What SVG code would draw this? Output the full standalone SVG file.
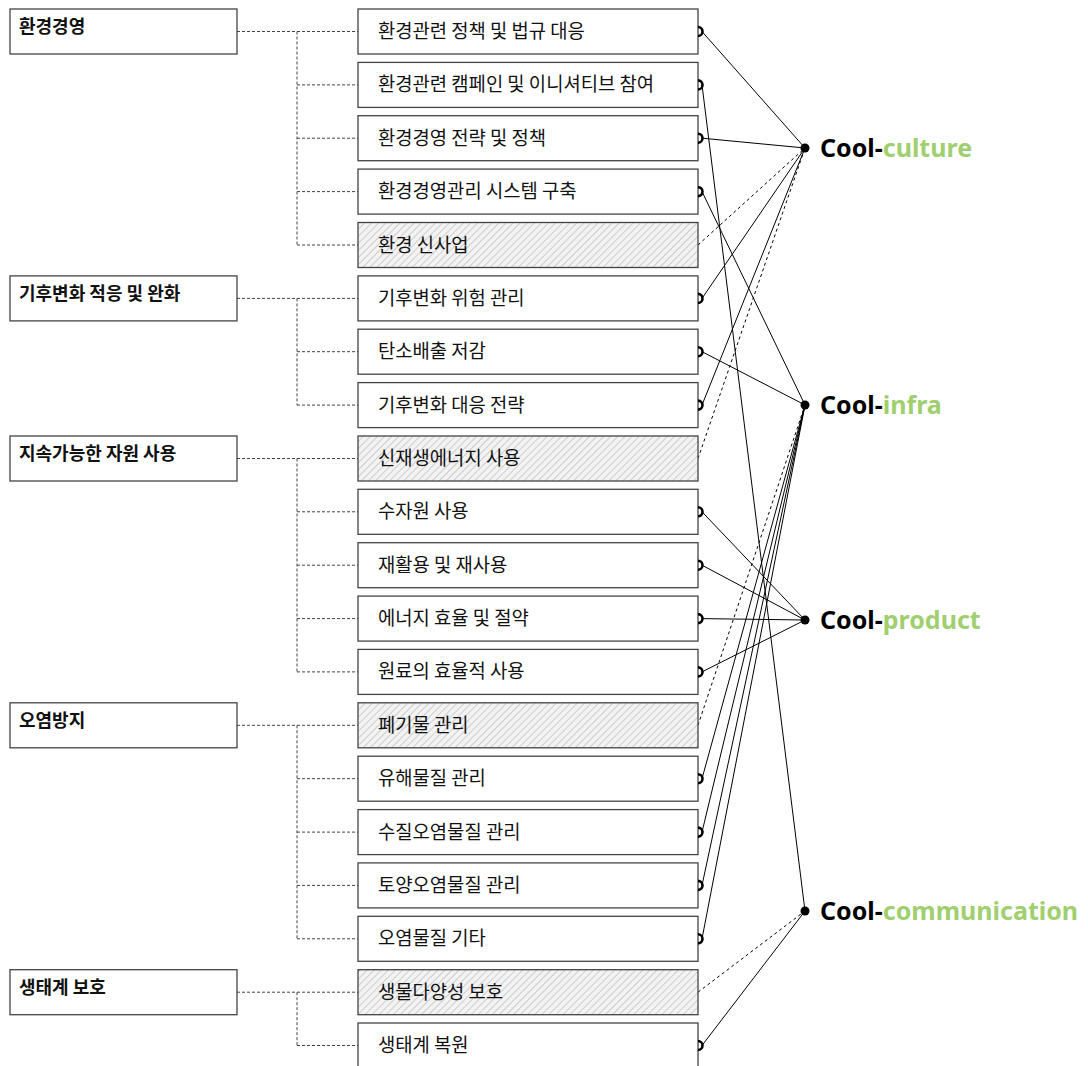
<svg xmlns="http://www.w3.org/2000/svg" width="1088" height="1066" viewBox="0 0 1088 1066">
<defs>
<pattern id="hatch" patternUnits="userSpaceOnUse" width="5" height="5" patternTransform="rotate(45)">
<rect width="5" height="5" fill="#f3f3f3"/>
<line x1="0" y1="0" x2="0" y2="5" stroke="#c4c4c4" stroke-width="1.6"/>
</pattern>
<style>
.box{fill:#fff;stroke:#444;stroke-width:1.3}
.hbox{fill:url(#hatch);stroke:#444;stroke-width:1.3}
.lt{font-family:"Noto Sans CJK KR",sans-serif;font-size:18px;font-weight:bold;fill:#111}
.rt{font-family:"Noto Sans CJK KR",sans-serif;font-size:18.8px;fill:#111}
.tree{fill:none;stroke:#444;stroke-width:1;stroke-dasharray:3 2}
.s{stroke:#000;stroke-width:1;fill:none}
.d{stroke:#000;stroke-width:1;fill:none;stroke-dasharray:3 3}
.mk{stroke:#000;stroke-width:2.6;fill:none}
.hub{font-family:"Noto Sans",sans-serif;font-size:25px;font-weight:bold;fill:#000}
.g{fill:#9fcf6f}
</style>
</defs>

<g id="connectors">
<path class="tree" d="M237,31.5H358 M297,31.5V245 M297,84.9H358 M297,138.2H358 M297,191.6H358 M297,245H358"/>
<path class="tree" d="M237,298.4H358 M297,298.4V405.1 M297,351.7H358 M297,405.1H358"/>
<path class="tree" d="M237,458.5H358 M297,458.5V671.9 M297,511.8H358 M297,565.2H358 M297,618.6H358 M297,671.9H358"/>
<path class="tree" d="M237,725.3H358 M297,725.3V938.8 M297,778.7H358 M297,832.1H358 M297,885.4H358 M297,938.8H358"/>
<path class="tree" d="M237,992.2H358 M297,992.2V1045.5 M297,1045.5H358"/>
<line class="s" x1="702" y1="31.5" x2="805" y2="148"/>
<line class="s" x1="702" y1="138.2" x2="805" y2="148"/>
<line class="d" x1="698" y1="245" x2="805" y2="148"/>
<line class="s" x1="702" y1="298.4" x2="805" y2="148"/>
<line class="s" x1="702" y1="405.1" x2="805" y2="148"/>
<line class="d" x1="698" y1="458.5" x2="805" y2="148"/>
<line class="s" x1="702" y1="191.6" x2="805" y2="405"/>
<line class="s" x1="702" y1="351.7" x2="805" y2="405"/>
<line class="d" x1="698" y1="725.3" x2="805" y2="405"/>
<line class="s" x1="702" y1="778.7" x2="805" y2="405"/>
<line class="s" x1="702" y1="832.1" x2="805" y2="405"/>
<line class="s" x1="702" y1="885.4" x2="805" y2="405"/>
<line class="s" x1="702" y1="938.8" x2="805" y2="405"/>
<line class="s" x1="702" y1="511.8" x2="805" y2="620"/>
<line class="s" x1="702" y1="565.2" x2="805" y2="620"/>
<line class="s" x1="702" y1="618.6" x2="805" y2="620"/>
<line class="s" x1="702" y1="671.9" x2="805" y2="620"/>
<line class="s" x1="702" y1="84.9" x2="805" y2="911"/>
<line class="d" x1="698" y1="992.2" x2="805" y2="911"/>
<line class="s" x1="702" y1="1045.5" x2="805" y2="911"/>
</g>

<g id="left-nodes">
<g id="n-env-mgmt"><rect class="box" x="10" y="9" width="227" height="45"/><text class="lt" x="19" y="33">환경경영</text></g>
<g id="n-climate"><rect class="box" x="10" y="275.9" width="227" height="45"/><text class="lt" x="19" y="299.9">기후변화 적응 및 완화</text></g>
<g id="n-resource"><rect class="box" x="10" y="436" width="227" height="45"/><text class="lt" x="19" y="460">지속가능한 자원 사용</text></g>
<g id="n-pollution"><rect class="box" x="10" y="702.8" width="227" height="45"/><text class="lt" x="19" y="726.8">오염방지</text></g>
<g id="n-eco"><rect class="box" x="10" y="969.7" width="227" height="45"/><text class="lt" x="19" y="993.7">생태계 보호</text></g>
</g>

<g id="right-nodes">
<g id="r0"><rect class="box" x="358" y="9" width="340" height="45"/><text class="rt" x="378" y="38">환경관련 정책 및 법규 대응</text><path class="mk" d="M698,27 A4.5,4.5 0 0 1 698,36"/></g>
<g id="r1"><rect class="box" x="358" y="62.4" width="340" height="45"/><text class="rt" x="378" y="91.4">환경관련 캠페인 및 이니셔티브 참여</text><path class="mk" d="M698,80.4 A4.5,4.5 0 0 1 698,89.4"/></g>
<g id="r2"><rect class="box" x="358" y="115.7" width="340" height="45"/><text class="rt" x="378" y="144.7">환경경영 전략 및 정책</text><path class="mk" d="M698,133.7 A4.5,4.5 0 0 1 698,142.7"/></g>
<g id="r3"><rect class="box" x="358" y="169.1" width="340" height="45"/><text class="rt" x="378" y="198.1">환경경영관리 시스템 구축</text><path class="mk" d="M698,187.1 A4.5,4.5 0 0 1 698,196.1"/></g>
<g id="r4"><rect class="hbox" x="358" y="222.5" width="340" height="45"/><text class="rt" x="378" y="251.5">환경 신사업</text></g>
<g id="r5"><rect class="box" x="358" y="275.9" width="340" height="45"/><text class="rt" x="378" y="304.9">기후변화 위험 관리</text><path class="mk" d="M698,293.9 A4.5,4.5 0 0 1 698,302.9"/></g>
<g id="r6"><rect class="box" x="358" y="329.2" width="340" height="45"/><text class="rt" x="378" y="358.2">탄소배출 저감</text><path class="mk" d="M698,347.2 A4.5,4.5 0 0 1 698,356.2"/></g>
<g id="r7"><rect class="box" x="358" y="382.6" width="340" height="45"/><text class="rt" x="378" y="411.6">기후변화 대응 전략</text><path class="mk" d="M698,400.6 A4.5,4.5 0 0 1 698,409.6"/></g>
<g id="r8"><rect class="hbox" x="358" y="436" width="340" height="45"/><text class="rt" x="378" y="465">신재생에너지 사용</text></g>
<g id="r9"><rect class="box" x="358" y="489.3" width="340" height="45"/><text class="rt" x="378" y="518.3">수자원 사용</text><path class="mk" d="M698,507.3 A4.5,4.5 0 0 1 698,516.3"/></g>
<g id="r10"><rect class="box" x="358" y="542.7" width="340" height="45"/><text class="rt" x="378" y="571.7">재활용 및 재사용</text><path class="mk" d="M698,560.7 A4.5,4.5 0 0 1 698,569.7"/></g>
<g id="r11"><rect class="box" x="358" y="596.1" width="340" height="45"/><text class="rt" x="378" y="625.1">에너지 효율 및 절약</text><path class="mk" d="M698,614.1 A4.5,4.5 0 0 1 698,623.1"/></g>
<g id="r12"><rect class="box" x="358" y="649.4" width="340" height="45"/><text class="rt" x="378" y="678.4">원료의 효율적 사용</text><path class="mk" d="M698,667.4 A4.5,4.5 0 0 1 698,676.4"/></g>
<g id="r13"><rect class="hbox" x="358" y="702.8" width="340" height="45"/><text class="rt" x="378" y="731.8">폐기물 관리</text></g>
<g id="r14"><rect class="box" x="358" y="756.2" width="340" height="45"/><text class="rt" x="378" y="785.2">유해물질 관리</text><path class="mk" d="M698,774.2 A4.5,4.5 0 0 1 698,783.2"/></g>
<g id="r15"><rect class="box" x="358" y="809.6" width="340" height="45"/><text class="rt" x="378" y="838.6">수질오염물질 관리</text><path class="mk" d="M698,827.6 A4.5,4.5 0 0 1 698,836.6"/></g>
<g id="r16"><rect class="box" x="358" y="862.9" width="340" height="45"/><text class="rt" x="378" y="891.9">토양오염물질 관리</text><path class="mk" d="M698,880.9 A4.5,4.5 0 0 1 698,889.9"/></g>
<g id="r17"><rect class="box" x="358" y="916.3" width="340" height="45"/><text class="rt" x="378" y="945.3">오염물질 기타</text><path class="mk" d="M698,934.3 A4.5,4.5 0 0 1 698,943.3"/></g>
<g id="r18"><rect class="hbox" x="358" y="969.7" width="340" height="45"/><text class="rt" x="378" y="998.7">생물다양성 보호</text></g>
<g id="r19"><rect class="box" x="358" y="1023" width="340" height="45"/><text class="rt" x="378" y="1052">생태계 복원</text><path class="mk" d="M698,1041 A4.5,4.5 0 0 1 698,1050"/></g>
</g>

<g id="hubs">
<g id="h-culture"><circle cx="805" cy="148" r="4.5"/><text class="hub" x="820" y="157">Cool-<tspan class="g">culture</tspan></text></g>
<g id="h-infra"><circle cx="805" cy="405" r="4.5"/><text class="hub" x="820" y="414">Cool-<tspan class="g">infra</tspan></text></g>
<g id="h-product"><circle cx="805" cy="620" r="4.5"/><text class="hub" x="820" y="629">Cool-<tspan class="g">product</tspan></text></g>
<g id="h-comm"><circle cx="805" cy="911" r="4.5"/><text class="hub" x="820" y="920">Cool-<tspan class="g">communication</tspan></text></g>
</g>
</svg>
